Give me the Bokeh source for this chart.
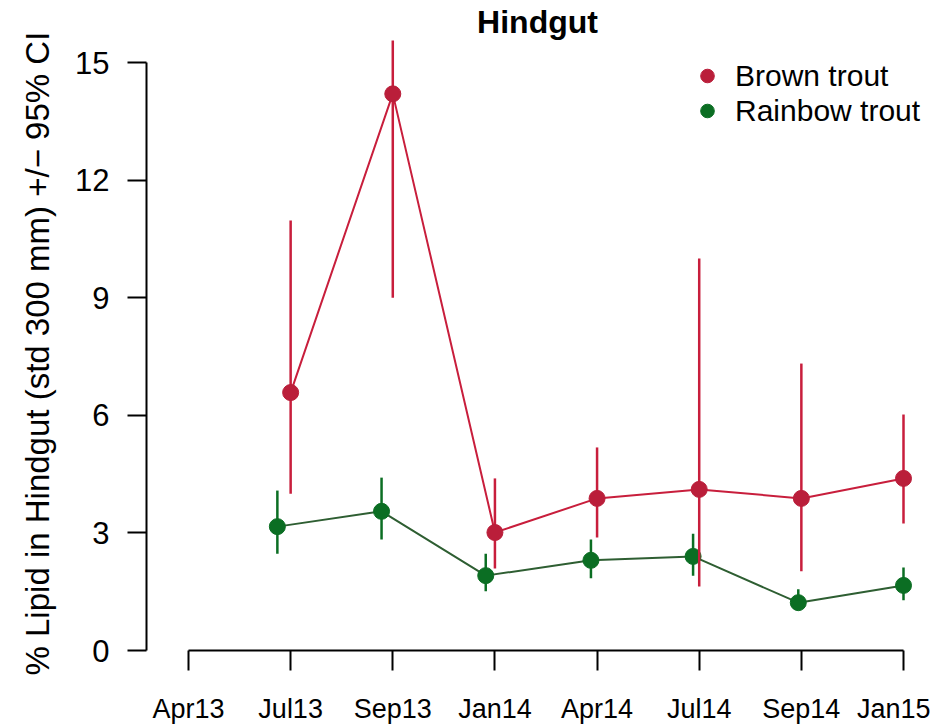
from bokeh.plotting import figure
from bokeh.models import (ColumnDataSource, Range1d, FixedTicker, Legend, LegendItem, Label, Title)
from bokeh.embed import file_html
from bokeh.resources import INLINE

# ---- data ----
months = ["Apr13", "Jul13", "Sep13", "Jan14", "Apr14", "Jul14", "Sep14", "Jan15"]
month_pos = [0, 1, 2, 3, 4, 5, 6, 7]
y_ticks = [0, 3, 6, 9, 12, 15]

brown_x = [1, 2, 3, 4, 5, 6, 7]
brown_mean = [6.58, 14.2, 3.01, 3.88, 4.11, 3.88, 4.39]
brown_lo = [4.0, 9.0, 2.09, 2.88, 1.63, 2.02, 3.24]
brown_hi = [10.97, 15.56, 4.39, 5.18, 10.0, 7.32, 6.02]

rainbow_x = [0.87, 1.89, 2.91, 3.94, 4.94, 5.97, 7.0]
rainbow_mean = [3.16, 3.55, 1.91, 2.30, 2.40, 1.22, 1.66]
rainbow_lo = [2.47, 2.83, 1.51, 1.84, 1.91, 1.05, 1.28]
rainbow_hi = [4.08, 4.41, 2.47, 2.83, 2.98, 1.56, 2.12]

FONT = "Liberation Sans"
RED_LINE = "#C81E3C"
RED_PT = "#BA1E3A"
GREEN_LINE = "#2E5E32"
GREEN_PT = "#0B6E23"

# pixel geometry (figure coords)
W, H = 930, 726
frame_left, frame_right, frame_top, frame_bottom = 146, 930, 0, 650
px_per_x = (903 - 188) / 7.0
px_per_y = 588 / 15.0
x0 = (frame_left - 188) / px_per_x
x1 = (frame_right - 188) / px_per_x
y1 = (frame_bottom - frame_top) / px_per_y

p = figure(width=W, height=H, output_backend="svg", toolbar_location=None,
           x_range=Range1d(x0, x1), y_range=Range1d(0, y1),
           min_border_left=frame_left, min_border_right=0, min_border_top=0,
           min_border_bottom=H - frame_bottom)
p.outline_line_color = None
p.xgrid.visible = False
p.ygrid.visible = False
p.background_fill_color = "white"
p.border_fill_color = "white"

# axes
xa = p.xaxis[0]
xa.ticker = FixedTicker(ticks=month_pos)
xa.major_label_overrides = {i: m for i, m in zip(month_pos, months)}
xa.bounds = (month_pos[0], month_pos[-1])
xa.minor_tick_line_color = None
xa.major_tick_in = 0
xa.major_tick_out = 20
xa.major_tick_line_width = 2
xa.axis_line_width = 2
xa.major_label_text_font = FONT
xa.major_label_text_font_size = "27px"
xa.major_label_text_color = "black"
xa.major_label_standoff = 23

ya = p.yaxis[0]
ya.ticker = FixedTicker(ticks=y_ticks)
ya.bounds = (y_ticks[0], y_ticks[-1])
ya.minor_tick_line_color = None
ya.major_tick_in = 0
ya.major_tick_out = 19
ya.major_tick_line_width = 2
ya.axis_line_width = 2
ya.major_label_text_font = FONT
ya.major_label_text_font_size = "31px"
ya.major_label_text_color = "black"
ya.major_label_standoff = 18

# y axis title as a left-side Title so it can start below the frame bottom
ytitle = Title(text="% Lipid in Hindgut (std 300 mm) +/\u2212 95% CI",
               align="left", offset=-25, standoff=33,
               text_font=FONT, text_font_size="33px", text_font_style="normal",
               text_color="black")
p.add_layout(ytitle, "left")

# rainbow trout
src_g = ColumnDataSource(dict(x=rainbow_x, y=rainbow_mean, lo=rainbow_lo, hi=rainbow_hi))
p.line("x", "y", source=src_g, line_color=GREEN_LINE, line_width=2)
p.segment(x0="x", y0="lo", x1="x", y1="hi", source=src_g, line_color=GREEN_PT, line_width=2.5)
r_g = p.scatter("x", "y", source=src_g, size=16, fill_color=GREEN_PT, line_color=GREEN_PT)

# brown trout
src_b = ColumnDataSource(dict(x=brown_x, y=brown_mean, lo=brown_lo, hi=brown_hi))
p.line("x", "y", source=src_b, line_color=RED_LINE, line_width=2)
p.segment(x0="x", y0="lo", x1="x", y1="hi", source=src_b, line_color=RED_LINE, line_width=2.5)
r_b = p.scatter("x", "y", source=src_b, size=16, fill_color=RED_PT, line_color=RED_PT)

legend = Legend(items=[LegendItem(label="Brown trout", renderers=[r_b]),
                       LegendItem(label="Rainbow trout", renderers=[r_g])],
                location=(544, 522), orientation="vertical",
                glyph_width=34, glyph_height=35, label_height=35, label_standoff=11,
                spacing=0, padding=0, margin=0,
                border_line_color=None, background_fill_alpha=0,
                label_text_font=FONT, label_text_font_size="30px", label_text_color="black")
p.add_layout(legend)

title = Label(x=391, y=629, x_units="screen", y_units="screen", text="Hindgut",
              text_font=FONT, text_font_size="32px", text_font_style="bold",
              text_align="center", text_baseline="alphabetic", text_color="black")
p.add_layout(title)

open("out.html", "w").write(file_html(p, INLINE))
